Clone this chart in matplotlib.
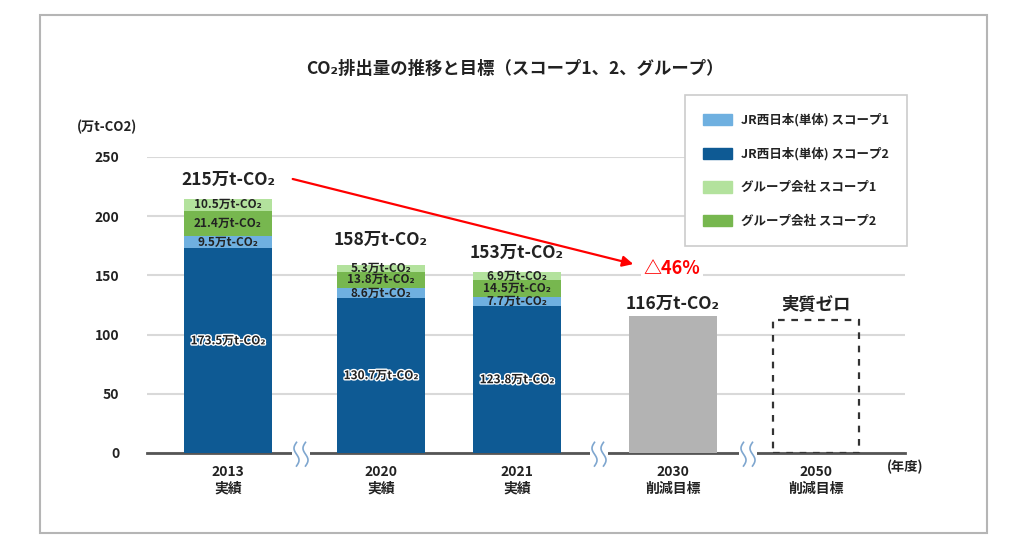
import numpy as np
import matplotlib
matplotlib.use('Agg')
import matplotlib.pyplot as plt
import matplotlib.patheffects as pe
from matplotlib.patches import Rectangle, Patch

plt.rcParams['font.family'] = ['Noto Sans CJK JP', 'DejaVu Sans']

# データ
categories = ['2013\n実績', '2020\n実績', '2021\n実績', '2030\n削減目標', '2050\n削減目標']
jr_scope2 = [173.5, 130.7, 123.8]
jr_scope1 = [9.5, 8.6, 7.7]
grp_scope2 = [21.4, 13.8, 14.5]
grp_scope1 = [10.5, 5.3, 6.9]
totals = [215, 158, 153]
target_2030 = 116
reduction = 46

# レイアウト (x はピクセル相当の単位)
xpos = [81, 234, 370, 526, 669]
width = 88
breaks = [154, 452, 601]
total_label_y = [231, 180, 169, 126]
zero_box_h = 112

c_jr1 = '#6fb0e0'
c_jr2 = '#0e5a94'
c_g1 = '#b3e29d'
c_g2 = '#77b74f'
c_gray = '#b3b3b3'
txt = '#222222'

fig = plt.figure(figsize=(10.24, 5.49), dpi=100)
fig.patches.append(Rectangle((0.039, 0.029), 0.925, 0.944, transform=fig.transFigure,
                             fill=False, edgecolor='#b5b5b5', lw=1.5))
ax = fig.add_axes([147/1024, 1-453/549, 758/1024, 296/549])
ax.set_xlim(0, 758)
ax.set_ylim(0, 250)

# 積み上げ棒
x3 = xpos[:3]
b1 = np.array(jr_scope2)
b2 = b1 + np.array(jr_scope1)
b3 = b2 + np.array(grp_scope2)
ax.bar(x3, jr_scope2, width, color=c_jr2, zorder=3)
ax.bar(x3, jr_scope1, width, bottom=b1, color=c_jr1, zorder=3)
ax.bar(x3, grp_scope2, width, bottom=b2, color=c_g2, zorder=3)
ax.bar(x3, grp_scope1, width, bottom=b3, color=c_g1, zorder=3)
ax.bar(xpos[3], target_2030, width, color=c_gray, zorder=3)
ax.add_patch(Rectangle((xpos[4]-width/2+1, 0), width-2, zero_box_h, fill=False,
                       edgecolor='#333333', lw=1.6, linestyle=(0, (3, 3)), zorder=3))

# 棒内ラベル
stroke = [pe.withStroke(linewidth=2, foreground='white')]
for i in range(3):
    ax.text(x3[i], jr_scope2[i]/2 + (8 if i == 0 else 0), f'{jr_scope2[i]}万t-CO₂',
            ha='center', va='center', fontsize=8.5, fontweight='bold', color=txt,
            path_effects=stroke, zorder=4)
    segs = [(b1[i], jr_scope1[i]), (b2[i], grp_scope2[i]), (b3[i], grp_scope1[i])]
    for bottom, v in segs:
        ax.text(x3[i], bottom + v/2, f'{v}万t-CO₂', ha='center', va='center',
                fontsize=8.5, fontweight='bold', color=txt, zorder=4)

# 合計ラベル
vals = totals + [target_2030]
for i, v in enumerate(vals):
    ax.text(xpos[i], total_label_y[i], f'{v}万t-CO₂', ha='center', va='center',
            fontsize=12.5, fontweight='bold', color=txt, zorder=4)
ax.text(xpos[4], 125, '実質ゼロ', ha='center', va='center', fontsize=12.5,
        fontweight='bold', color=txt, zorder=4)

# 矢印
ax.annotate('', xy=(489, 159), xytext=(143, 232),
            arrowprops=dict(arrowstyle='-|>', color='#ff0000', lw=1.6,
                            mutation_scale=16), zorder=5)
ax.text(525, 156, f'△{reduction}%', ha='center', va='center', fontsize=13,
        fontweight='bold', color='#ff0000', zorder=4,
        bbox=dict(facecolor='white', edgecolor='none', pad=1.5))

# 軸
ax.set_yticks([0, 50, 100, 150, 200, 250])
ax.grid(axis='y', color='#d9d9d9', lw=1.5, zorder=0)
for s in ['top', 'right', 'left']:
    ax.spines[s].set_visible(False)
ax.spines['bottom'].set_color('#555555')
ax.spines['bottom'].set_linewidth(2)
ax.tick_params(axis='y', length=0, pad=20, labelsize=10)
ax.tick_params(axis='x', length=0, pad=9, labelsize=10)
ax.set_xticks(xpos)
ax.set_xticklabels(categories, fontweight='bold', color=txt, linespacing=1.2)
for lab in ax.get_yticklabels():
    lab.set_fontweight('bold')
    lab.set_color(txt)

# 省略記号
t = np.linspace(0, 1, 50)
for bx in breaks:
    ax.add_patch(Rectangle((bx-9, -3), 18, 6, facecolor='white', edgecolor='none',
                           zorder=6, clip_on=False))
    for dx in (-4.5, 4.5):
        yy = -11 + 20*t
        xx = bx + dx + 2.5*np.sin(2*np.pi*t)
        ax.plot(xx, yy, color='#7ea6cf', lw=1.2, zorder=7, clip_on=False)

ax.text(740, -12, '(年度)', ha='left', va='center', fontsize=9.5,
        fontweight='bold', color=txt, clip_on=False)
fig.text(107/1024, 1-127/549, '(万t-CO2)', ha='center', va='center',
         fontsize=9.5, fontweight='bold', color=txt)
fig.text(515/1024, 1-69/549, 'CO₂排出量の推移と目標（スコープ1、2、グループ）',
         ha='center', va='center', fontsize=12.5, fontweight='bold', color=txt)

# 凡例
handles = [Patch(color=c_jr1), Patch(color=c_jr2), Patch(color=c_g1), Patch(color=c_g2)]
labels = ['JR西日本(単体) スコープ1', 'JR西日本(単体) スコープ2',
          'グループ会社 スコープ1', 'グループ会社 スコープ2']
leg = fig.legend(handles, labels, loc='upper left', bbox_to_anchor=(685/1024, 1-95/549),
                 fancybox=False, edgecolor='#cccccc', framealpha=1,
                 prop={'size': 9, 'weight': 'bold'}, handlelength=2.3,
                 handleheight=1.0, labelspacing=1.65, borderpad=1.45, handletextpad=0.75,
                 borderaxespad=0)
leg.get_frame().set_linewidth(1.2)
for tx in leg.get_texts():
    tx.set_color(txt)

fig.savefig('out.png', dpi=100)
